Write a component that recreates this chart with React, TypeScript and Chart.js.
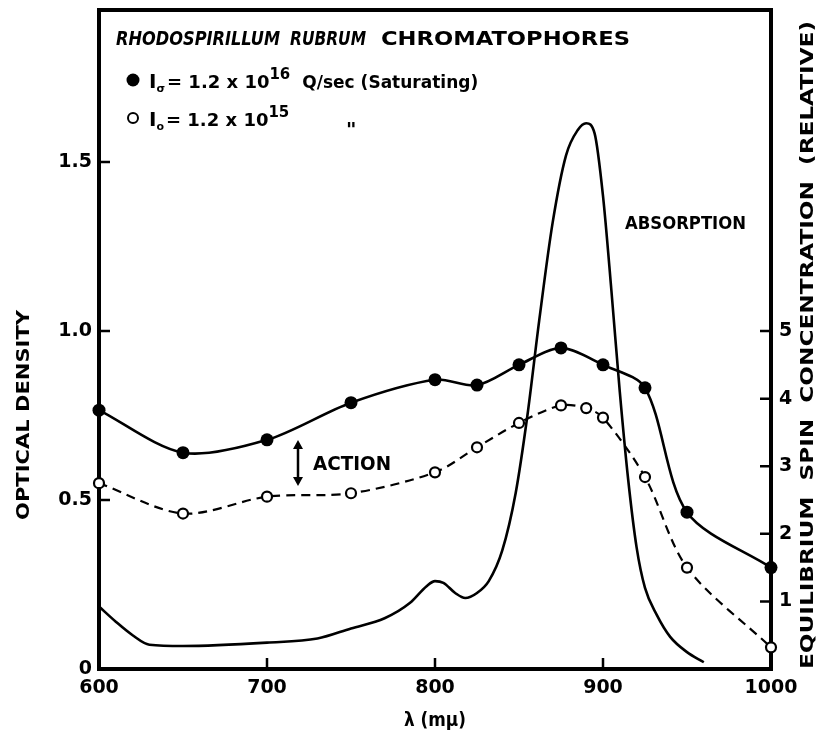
import React, { useEffect, useRef } from 'react';
import { Chart, registerables } from 'chart.js';

Chart.register(...registerables);

// Spin concentration (relative, right axis)
const satWavelengths = [600, 650, 700, 750, 800, 825, 850, 875, 900, 925, 950, 1000];
const satSpin = [3.83, 3.2, 3.39, 3.94, 4.28, 4.2, 4.5, 4.75, 4.5, 4.16, 2.32, 1.5];

const lowWavelengths = [600, 650, 700, 750, 800, 825, 850, 875, 890, 900, 925, 950, 1000];
const lowSpin = [2.75, 2.3, 2.55, 2.6, 2.91, 3.28, 3.64, 3.9, 3.86, 3.72, 2.84, 1.5, 0.32];

// Optical density (left axis)
const absWavelengths = [600, 610, 620, 630, 650, 700, 730, 750, 770, 785, 795, 800, 805, 812, 818, 825, 832, 840, 848, 855, 862, 870, 878, 885, 890, 895, 900, 905, 910, 915, 920, 925, 932, 940, 950, 960];
const absOD = [0.185, 0.14, 0.1, 0.072, 0.068, 0.078, 0.09, 0.12, 0.15, 0.195, 0.245, 0.26, 0.255, 0.225, 0.21, 0.225, 0.26, 0.35, 0.52, 0.75, 1.03, 1.32, 1.52, 1.595, 1.615, 1.585, 1.40, 1.12, 0.82, 0.56, 0.36, 0.24, 0.16, 0.095, 0.05, 0.02];

const xTicks = [600, 700, 800, 900, 1000];
const odTicks = [0, 0.5, 1.0, 1.5];
const odTickLabels = ['0', '0.5', '1.0', '1.5'];
const spinTicks = [1, 2, 3, 4, 5];

const OD_MAX = 1.95;
const SPIN_PER_OD = 5;

const FONT = "'DejaVu Sans', 'Liberation Sans', sans-serif";

function fitText(ctx: CanvasRenderingContext2D, text: string, x: number, y: number, width: number, font: string, rotate = 0, align: CanvasTextAlign = 'left') {
  ctx.save();
  ctx.font = font;
  ctx.textAlign = align;
  ctx.textBaseline = 'alphabetic';
  const w = ctx.measureText(text).width;
  ctx.translate(x, y);
  if (rotate) ctx.rotate(rotate);
  ctx.scale(width / w, 1);
  ctx.fillText(text, 0, 0);
  ctx.restore();
}

function drawRun(ctx: CanvasRenderingContext2D, parts: { t: string; size: number; dy?: number; gap?: number }[], x: number, y: number) {
  let cx = x;
  for (const p of parts) {
    cx += p.gap || 0;
    ctx.font = `bold ${p.size}px ${FONT}`;
    ctx.fillText(p.t, cx, y + (p.dy || 0));
    cx += ctx.measureText(p.t).width;
  }
  return cx;
}

const noPad = (s: any) => { s.paddingTop = 0; s.paddingBottom = 0; s.paddingLeft = 0; s.paddingRight = 0; };

const framePlugin = {
  id: 'frameTicks',
  beforeDatasetsDraw(chart: any) {
    const { ctx, chartArea: a, scales } = chart;
    ctx.save();
    ctx.strokeStyle = '#000';
    ctx.lineWidth = 4;
    ctx.strokeRect(a.left, a.top, a.right - a.left, a.bottom - a.top);
    ctx.lineWidth = 2.5;
    ctx.beginPath();
    for (const v of xTicks) {
      if (v === 600 || v === 1000) continue;
      const px = scales.x.getPixelForValue(v);
      ctx.moveTo(px, a.bottom);
      ctx.lineTo(px, a.bottom - 11);
    }
    for (const v of odTicks) {
      if (v === 0) continue;
      const py = scales.y.getPixelForValue(v);
      ctx.moveTo(a.left, py);
      ctx.lineTo(a.left + 11, py);
    }
    for (const v of spinTicks) {
      const py = scales.y2.getPixelForValue(v);
      ctx.moveTo(a.right, py);
      ctx.lineTo(a.right - 11, py);
    }
    ctx.stroke();
    ctx.restore();
  },
  afterDraw(chart: any) {
    const { ctx, chartArea: a } = chart;
    ctx.save();
    ctx.fillStyle = '#000';
    ctx.strokeStyle = '#000';
    // Header
    fitText(ctx, 'RHODOSPIRILLUM', 116, 45, 164, `italic bold 20px ${FONT}`);
    fitText(ctx, 'RUBRUM', 290, 45, 76, `italic bold 20px ${FONT}`);
    fitText(ctx, 'CHROMATOPHORES', 381, 45, 249, `bold 20px ${FONT}`);

    // Legend line 1
    ctx.beginPath();
    ctx.arc(133, 80, 6.5, 0, Math.PI * 2);
    ctx.fill();
    drawRun(ctx, [
      { t: 'I', size: 20 },
      { t: 'σ', size: 11, dy: 4 },
      { t: '= 1.2 x 10', size: 18, gap: 2 },
      { t: '16', size: 15, dy: -9 },
      { t: 'Q/sec (Saturating)', size: 17, gap: 12 },
    ], 149, 88);

    // Legend line 2
    ctx.beginPath();
    ctx.lineWidth = 2;
    ctx.arc(133, 118, 5, 0, Math.PI * 2);
    ctx.stroke();
    drawRun(ctx, [
      { t: 'I', size: 20 },
      { t: 'o', size: 11, dy: 4 },
      { t: '= 1.2 x 10', size: 18, gap: 2 },
      { t: '15', size: 15, dy: -9 },
    ], 149, 126);
    ctx.font = `bold 20px ${FONT}`;
    ctx.fillText('"', 346, 136);

    // ACTION with double arrow
    ctx.lineWidth = 2.5;
    ctx.beginPath();
    ctx.moveTo(298, 446);
    ctx.lineTo(298, 480);
    ctx.stroke();
    ctx.beginPath();
    ctx.moveTo(298, 440); ctx.lineTo(293, 449); ctx.lineTo(303, 449); ctx.closePath();
    ctx.moveTo(298, 486); ctx.lineTo(293, 477); ctx.lineTo(303, 477); ctx.closePath();
    ctx.fill();
    fitText(ctx, 'ACTION', 313, 470, 78, `bold 19px ${FONT}`);

    fitText(ctx, 'ABSORPTION', 625, 229, 121, `bold 17px ${FONT}`);

    // Axis titles
    fitText(ctx, 'OPTICAL DENSITY', 29, 415, 210, `bold 18px ${FONT}`, -Math.PI / 2, 'center');
    fitText(ctx, 'EQUILIBRIUM  SPIN  CONCENTRATION  (RELATIVE)', 813, 345, 648, `bold 18px ${FONT}`, -Math.PI / 2, 'center');
    fitText(ctx, 'λ (mμ)', (a.left + a.right) / 2, 726, 62, `bold 20px ${FONT}`, 0, 'center');
    ctx.restore();
  },
};

export default function App() {
  const ref = useRef<HTMLCanvasElement | null>(null);
  useEffect(() => {
    document.body.style.margin = '0';
    const canvas = ref.current!;
    const chart = new Chart(canvas, {
      type: 'line',
      data: {
        datasets: [
          {
            label: 'Absorption',
            data: absWavelengths.map((x, i) => ({ x, y: absOD[i] })),
            yAxisID: 'y',
            borderColor: '#000',
            borderWidth: 2.6,
            pointRadius: 0,
            cubicInterpolationMode: 'monotone',
            fill: false,
            clip: false as any,
          },
          {
            label: 'Saturating',
            data: satWavelengths.map((x, i) => ({ x, y: satSpin[i] })),
            yAxisID: 'y2',
            borderColor: '#000',
            borderWidth: 2.6,
            pointRadius: 6.5,
            pointBackgroundColor: '#000',
            pointBorderColor: '#000',
            pointBorderWidth: 0,
            tension: 0.3,
            fill: false,
            clip: false as any,
          },
          {
            label: 'Low intensity',
            data: lowWavelengths.map((x, i) => ({ x, y: lowSpin[i] })),
            yAxisID: 'y2',
            borderColor: '#000',
            borderWidth: 2.2,
            borderDash: [9, 6],
            pointRadius: 5,
            pointBackgroundColor: '#fff',
            pointBorderColor: '#000',
            pointBorderWidth: 2.2,
            tension: 0.3,
            fill: false,
            clip: false as any,
          },
        ],
      },
      options: {
        animation: false,
        responsive: false,
        devicePixelRatio: 1,
        layout: { padding: { top: 10, left: 0, right: 0, bottom: 0 } },
        plugins: { legend: { display: false }, tooltip: { enabled: false } },
        scales: {
          x: {
            type: 'linear',
            min: 600,
            max: 1000,
            afterBuildTicks: (s: any) => { s.ticks = xTicks.map((v) => ({ value: v })); },
            afterFit: (s: any) => { s.height = 75; noPad(s); },
            grid: { display: false, drawTicks: false },
            border: { display: false },
            ticks: { color: '#000', padding: 8, font: { family: FONT, size: 19, weight: 'bold' }, maxRotation: 0, callback: (v: any) => String(v) },
          },
          y: {
            type: 'linear',
            position: 'left',
            min: 0,
            max: OD_MAX,
            afterBuildTicks: (s: any) => { s.ticks = odTicks.map((v) => ({ value: v })); },
            afterFit: (s: any) => { s.width = 99; noPad(s); },
            grid: { display: false, drawTicks: false },
            border: { display: false },
            ticks: {
              color: '#000',
              padding: 7,
              font: { family: FONT, size: 19, weight: 'bold' },
              callback: (v: any) => odTickLabels[odTicks.indexOf(Number(v))] ?? '',
            },
          },
          y2: {
            type: 'linear',
            position: 'right',
            min: 0,
            max: OD_MAX * SPIN_PER_OD,
            afterBuildTicks: (s: any) => { s.ticks = spinTicks.map((v) => ({ value: v })); },
            afterFit: (s: any) => { s.width = 55; noPad(s); },
            grid: { display: false, drawTicks: false },
            border: { display: false },
            ticks: { color: '#000', padding: 8, font: { family: FONT, size: 19, weight: 'bold' } },
          },
        },
      },
      plugins: [framePlugin],
    } as any);
    return () => chart.destroy();
  }, []);
  return (
    <div style={{ width: 826, height: 744 }}>
      <canvas ref={ref} width={826} height={744} style={{ display: 'block' }} />
    </div>
  );
}
